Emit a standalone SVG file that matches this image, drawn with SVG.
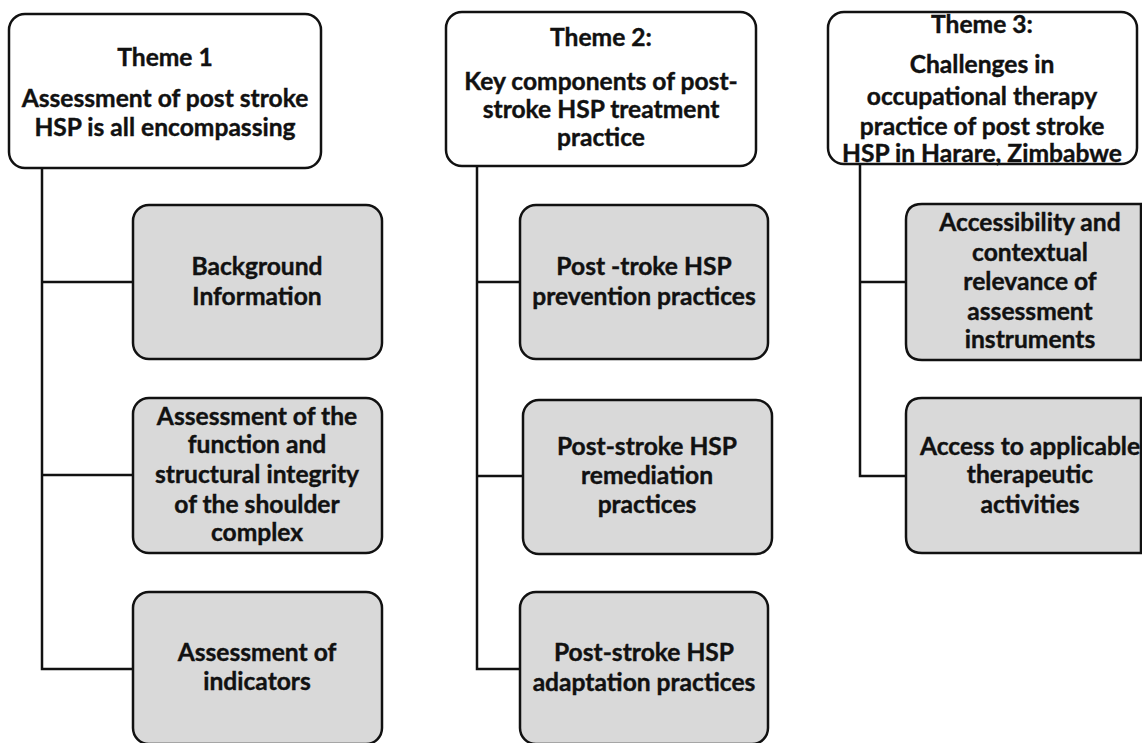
<svg xmlns="http://www.w3.org/2000/svg" width="1142" height="743" viewBox="0 0 1142 743">
<style>
.theme{fill:#fff;stroke:#111;stroke-width:2.5}
.sub{fill:#d9d9d9;stroke:#111;stroke-width:2.5}
.conn{fill:none;stroke:#111;stroke-width:2.5}
text{font-family:Lato,"Open Sans","Liberation Sans",sans-serif;font-weight:bold;font-size:24.6px;fill:#111;stroke:#111;stroke-width:0.4;text-anchor:middle}
</style>
<rect width="1142" height="743" fill="#fff"/>
<g id="connectors">
<path class="conn" d="M42 168 V669 H133 M42 282 H133 M42 475 H133"/>
<path class="conn" d="M477 166 V669 H520 M477 282 H520 M477 476 H523"/>
<path class="conn" d="M860 164 V476 H906 M860 282 H906"/>
</g>
<g id="theme1">
<rect class="theme" x="9" y="14" width="312" height="154" rx="16"/>
<text x="165" y="66">Theme 1</text>
<text x="165" y="107">Assessment of post stroke</text>
<text x="165" y="136">HSP is all encompassing</text>
</g>
<g id="theme2">
<rect class="theme" x="446" y="12" width="310" height="154" rx="16"/>
<text x="601" y="46">Theme 2:</text>
<text x="601" y="90">Key components of post-</text>
<text x="601" y="118">stroke HSP treatment</text>
<text x="601" y="146">practice</text>
</g>
<g id="theme3">
<rect class="theme" x="828" y="12" width="309" height="152" rx="16"/>
<text x="982" y="33">Theme 3:</text>
<text x="982" y="73">Challenges in</text>
<text x="982" y="105">occupational therapy</text>
<text x="982" y="135">practice of post stroke</text>
<text x="982" y="162">HSP in Harare, Zimbabwe</text>
</g>
<g id="background">
<rect class="sub" x="133" y="205" width="249" height="154" rx="16"/>
<text x="257" y="275">Background</text>
<text x="257" y="305">Information</text>
</g>
<g id="assess-function">
<rect class="sub" x="133" y="398" width="249" height="155" rx="16"/>
<text x="257" y="425">Assessment of the</text>
<text x="257" y="453">function and</text>
<text x="257" y="483">structural integrity</text>
<text x="257" y="513">of the shoulder</text>
<text x="257" y="541">complex</text>
</g>
<g id="assess-indicators">
<rect class="sub" x="133" y="592" width="249" height="152" rx="16"/>
<text x="257" y="661">Assessment of</text>
<text x="257" y="690">indicators</text>
</g>
<g id="prevention">
<rect class="sub" x="520" y="205" width="248" height="154" rx="16"/>
<text x="644" y="275">Post -troke HSP</text>
<text x="644" y="305">prevention practices</text>
</g>
<g id="remediation">
<rect class="sub" x="523" y="400" width="249" height="154" rx="16"/>
<text x="647" y="455">Post-stroke HSP</text>
<text x="647" y="484">remediation</text>
<text x="647" y="513">practices</text>
</g>
<g id="adaptation">
<rect class="sub" x="520" y="592" width="248" height="152" rx="16"/>
<text x="644" y="661">Post-stroke HSP</text>
<text x="644" y="691">adaptation practices</text>
</g>
<g id="accessibility">
<path class="sub" d="M1141 204 H922 Q906 204 906 220 V344 Q906 360 922 360 H1141 Z"/>
<text x="1030" y="231">Accessibility and</text>
<text x="1030" y="261">contextual</text>
<text x="1030" y="290">relevance of</text>
<text x="1030" y="320">assessment</text>
<text x="1030" y="348">instruments</text>
</g>
<g id="access-activities">
<path class="sub" d="M1141 398 H922 Q906 398 906 414 V537 Q906 553 922 553 H1141 Z"/>
<text x="1030" y="455">Access to applicable</text>
<text x="1030" y="483">therapeutic</text>
<text x="1030" y="513">activities</text>
</g>
</svg>
